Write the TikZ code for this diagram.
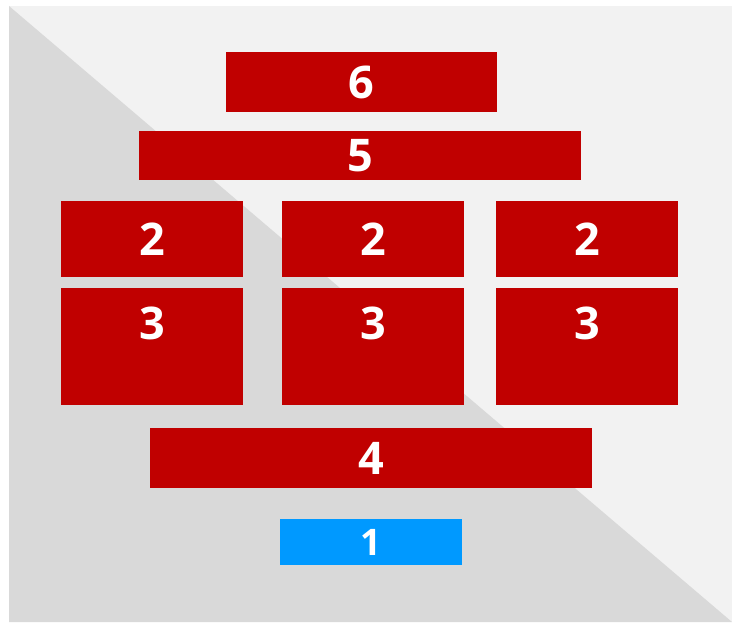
\documentclass[tikz,border=0pt]{standalone}
\usepackage{fontspec}
\setmainfont{Open Sans}
\usepackage{tikz}
\usetikzlibrary{positioning}
\definecolor{myred}{RGB}{192,0,0}
\definecolor{myblue}{RGB}{0,153,255}
\definecolor{bglight}{RGB}{242,242,242}
\definecolor{bgdark}{RGB}{217,217,217}
\tikzset{
  layer/.style={rectangle, fill=myred, inner sep=0pt, text=white,
    font=\fontsize{32}{36}\selectfont\bfseries},
  widelayer/.style={layer, minimum width=11.05cm},
  colbox/.style={layer, minimum width=4.55cm, minimum height=1.9cm},
  tallbox/.style={layer, minimum width=4.55cm, minimum height=2.925cm},
  digit/.style={text=white, font=\fontsize{32}{36}\selectfont\bfseries,
    inner sep=0pt, anchor=center, yshift=-0.9cm},
  basebox/.style={layer, fill=myblue, minimum width=4.55cm,
    minimum height=1.15cm, font=\fontsize{26}{30}\selectfont\bfseries}
}
\begin{document}
\begin{tikzpicture}[x=0.025cm, y=-0.025cm]
  \useasboundingbox (0,0) rectangle (732,624);
  % ── Background ────────────────────────────────────────────────────
  \fill[bglight] (9,6) rectangle (732,622);
  \fill[bgdark] (9,6) -- (732,622) -- (9,622) -- cycle;

  % ── Top layers ────────────────────────────────────────────────────
  \node[layer, minimum width=6.775cm, minimum height=1.5cm] (top) at (361.5,82) {6};
  \node[widelayer, minimum height=1.225cm] (second) at (360,155.5) {5};

  % ── Columns ───────────────────────────────────────────────────────
  \foreach \cx [count=\i] in {152,373,587} {
    \node[colbox] (head\i) at (\cx,239) {2};
    \node[tallbox, label={[digit]north:3}] (body\i) at (\cx,346.5) {};
  }

  % ── Bottom layers ─────────────────────────────────────────────────
  \node[widelayer, minimum height=1.5cm] (floor) at (371,458) {4};
  \node[basebox] (base) at (371,542) {1};
\end{tikzpicture}
\end{document}
